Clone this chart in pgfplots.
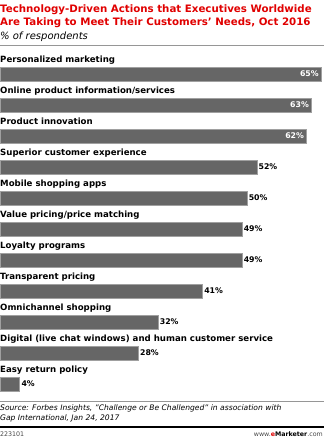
\documentclass[border=0pt]{standalone}
\usepackage{pgfplots}
\pgfplotsset{compat=1.18}
\usepackage{fontspec}
\setmainfont{DejaVu Sans}
\definecolor{emred}{RGB}{224,0,0}
\definecolor{bargray}{RGB}{102,102,102}
\definecolor{edgegray}{RGB}{160,160,160}
\definecolor{linegray}{RGB}{150,150,150}
\definecolor{foot}{RGB}{70,70,70}
\begin{document}
\begin{tikzpicture}[x=1pt,y=1pt]
\path[use as bounding box] (0,0) rectangle (324,-438);
% title
\node[anchor=base west,inner sep=0,text=emred,font=\fontsize{10.25}{12}\selectfont\bfseries] at (0,-13) {Technology-Driven Actions that Executives Worldwide};
\node[anchor=base west,inner sep=0,text=emred,font=\fontsize{10.25}{12}\selectfont\bfseries] at (0,-26) {Are Taking to Meet Their Customers' Needs, Oct 2016};
\node[anchor=base west,inner sep=0,font=\fontsize{10}{12}\selectfont\itshape] at (0,-39.5) {\% of respondents};
\draw[linegray,line width=0.8] (0,-45) -- (324,-45);
\begin{axis}[
  at={(0pt,-58.5pt)}, anchor=north west,
  scale only axis, width=324pt, height=341pt,
  xmin=0, xmax=65.6, ymin=-0.5, ymax=10.5,
  y dir=reverse, axis lines=none, clip=false,
  xbar, bar width=14pt, bar shift=0pt,
  point meta=x,
  /pgf/number format/assume math mode=true,
  nodes near coords={\pgfmathprintnumber{\pgfplotspointmeta}\%},
]
\addplot[fill=bargray,draw=edgegray,line width=0.6,
  every node near coord/.append style={anchor=east,xshift=-1pt,text=white,font=\fontsize{7.8}{9}\selectfont\bfseries,inner sep=1pt}]
  coordinates {(65,0) (63,1) (62,2)};
\addplot[fill=bargray,draw=edgegray,line width=0.6,
  every node near coord/.append style={anchor=west,xshift=0pt,text=black,font=\fontsize{7.8}{9}\selectfont\bfseries,inner sep=1.5pt}]
  coordinates {(52,3) (50,4) (49,5) (49,6) (41,7) (32,8) (28,9) (4,10)};
\foreach \i/\lab in {0/Personalized marketing,1/Online product information\slash services,2/Product innovation,3/Superior customer experience,4/Mobile shopping apps,5/Value pricing\slash price matching,6/Loyalty programs,7/Transparent pricing,8/Omnichannel shopping,9/Digital (live chat windows) and human customer service,10/Easy return policy}{
  \edef\temp{\noexpand\node[anchor=base west,inner sep=0,yshift=11.5pt,font=\noexpand\fontsize{8.6}{9}\noexpand\selectfont\noexpand\bfseries] at (axis cs:0,\i) {\unexpanded\expandafter{\lab}};}
  \temp
}
\end{axis}
\draw[linegray,line width=0.8] (0,-401) -- (324,-401);
\node[anchor=base west,inner sep=0,font=\fontsize{7.6}{9}\selectfont\itshape] at (0,-410.5) {Source: Forbes Insights, "Challenge or Be Challenged" in association with};
\node[anchor=base west,inner sep=0,font=\fontsize{7.6}{9}\selectfont\itshape] at (0,-420) {Gap International, Jan 24, 2017};
\draw[black,line width=1.8] (0,-427) -- (324,-427);
\node[anchor=base west,inner sep=0,text=foot,font=\fontsize{6.3}{8}\selectfont] at (0,-436) {223101};
\node[anchor=base east,inner sep=0,text=foot,font=\fontsize{6.3}{8}\selectfont] at (323,-436) {www.{\bfseries\color{emred}e}{\bfseries\color{black}Marketer}.com};
\end{tikzpicture}
\end{document}
